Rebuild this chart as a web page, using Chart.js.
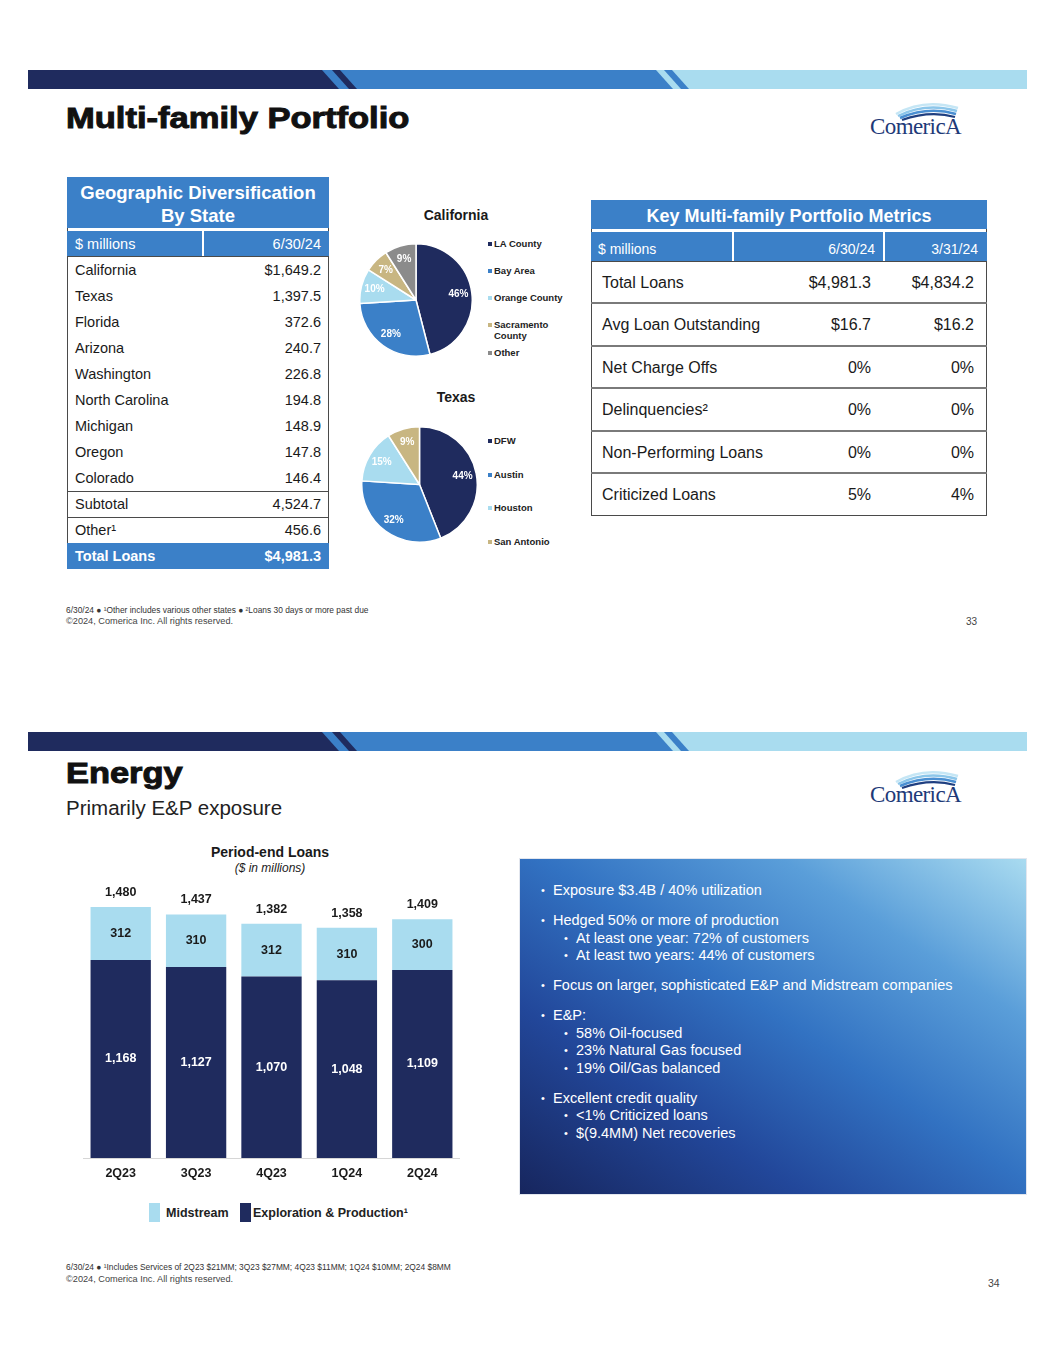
<!DOCTYPE html>
<html>
<head>
<meta charset="utf-8">
<script src="https://cdn.jsdelivr.net/npm/chart.js@4.4.1/dist/chart.umd.min.js"></script>
<style>
body { margin:0; width:1055px; height:1365px; background:#fff; position:relative; overflow:hidden;
       font-family:"Liberation Sans", Arial, sans-serif; color:#1a1a1a; }
.a { position:absolute; white-space:nowrap; line-height:1; }
.r { position:absolute; box-sizing:border-box; }
.box { position:absolute; }
.leg { position:absolute; font-weight:bold; font-size:9.5px; color:#222; line-height:11px; width:74px; }
.leg i { position:absolute; left:-6px; top:4px; width:4px; height:4px; }
#bullets { position:absolute; left:541px; top:882px; color:#fff; font-size:14.5px; line-height:17.5px; }
#bullets div { position:relative; padding-left:12px; white-space:nowrap; }
#bullets div.sub { padding-left:35px; }
#bullets div.gap { margin-top:12.5px; }
#bullets div::before { content:"\2022"; position:absolute; left:0; font-size:11px; }
#bullets div.sub::before { left:23px; }
</style>
</head>
<body>
<script>
// ---------- data ----------
const states = ['California', 'Texas', 'Florida', 'Arizona', 'Washington', 'North Carolina', 'Michigan', 'Oregon', 'Colorado'];
const stateLoans = [1649.2, 1397.5, 372.6, 240.7, 226.8, 194.8, 148.9, 147.8, 146.4];
const subtotalLoans = 4524.7;
const otherLoans = 456.6;
const totalStateLoans = 4981.3;

const metricNames = ['Total Loans', 'Avg Loan Outstanding', 'Net Charge Offs', 'Delinquencies²', 'Non-Performing Loans', 'Criticized Loans'];
const metricsJun24 = ['$4,981.3', '$16.7', '0%', '0%', '0%', '5%'];
const metricsMar24 = ['$4,834.2', '$16.2', '0%', '0%', '0%', '4%'];

const caRegions = ['LA County', 'Bay Area', 'Orange County', 'Sacramento County', 'Other'];
const caShares = [46, 28, 10, 7, 9];
const txRegions = ['DFW', 'Austin', 'Houston', 'San Antonio'];
const txShares = [44, 32, 15, 9];

const quarters = ['2Q23', '3Q23', '4Q23', '1Q24', '2Q24'];
const midstream = [312, 310, 312, 310, 300];
const explorationProduction = [1168, 1127, 1070, 1048, 1109];
const periodEndTotals = [1480, 1437, 1382, 1358, 1409];

const energyBullets = [
    [0, 'Exposure $3.4B / 40% utilization'],
    [0, 'Hedged 50% or more of production'],
    [1, 'At least one year: 72% of customers'],
    [1, 'At least two years: 44% of customers'],
    [0, 'Focus on larger, sophisticated E&amp;P and Midstream companies'],
    [0, 'E&amp;P:'],
    [1, '58% Oil-focused'],
    [1, '23% Natural Gas focused'],
    [1, '19% Oil/Gas balanced'],
    [0, 'Excellent credit quality'],
    [1, '&lt;1% Criticized loans'],
    [1, '$(9.4MM) Net recoveries']
];

// ---------- colours ----------
const navy = '#1f2b5e';
const midBlue = '#3b80c8';
const lightBlue = '#a9dcef';
const tan = '#c8b682';
const grey = '#8b8b8b';
const lineGrey = '#4a4a4a';

// ---------- helpers ----------
const W = 1055;
function put(html, x, y, css, align) {
    const d = document.createElement('div');
    d.className = 'a';
    d.innerHTML = html;
    d.style.cssText = css || '';
    d.style.top = y + 'px';
    let tx = '0';
    if (align === 'r') {
        d.style.right = (W - x) + 'px';
    } else {
        d.style.left = x + 'px';
        if (align === 'c') tx = '-50%';
    }
    d.style.transform = `translate(${tx},-50%)`;
    document.body.appendChild(d);
    return d;
}
function rect(x, y, w, h, css) {
    const d = document.createElement('div');
    d.className = 'r';
    d.style.cssText = `left:${x}px;top:${y}px;width:${w}px;height:${h}px;` + css;
    document.body.appendChild(d);
    return d;
}
function fmt(v, dec) {
    return v.toLocaleString('en-US', { minimumFractionDigits: dec || 0, maximumFractionDigits: dec || 0 });
}
function title(text, top, size, width) {
    const d = document.createElement('div');
    d.className = 'a';
    d.textContent = text;
    d.style.cssText = `left:66px;top:${top}px;font-size:${size}px;font-weight:bold;color:#111;-webkit-text-stroke:1px #111;transform-origin:0 0;`;
    document.body.appendChild(d);
    d.style.transform = `scaleX(${width / d.offsetWidth})`;
}
function banner(y) {
    const ns = 'http://www.w3.org/2000/svg';
    const svg = document.createElementNS(ns, 'svg');
    svg.setAttribute('width', W);
    svg.setAttribute('height', 19);
    svg.style.cssText = `position:absolute;left:0;top:${y}px`;
    const shapes = [
        ['28,0 1027,0 1027,19 28,19', lightBlue],
        ['28,0 656,0 673,19 28,19', midBlue],
        ['664,0 672,0 689,19 681,19', midBlue],
        ['28,0 322,0 339,19 28,19', navy],
        ['332,0 340,0 357,19 349,19', navy]
    ];
    shapes.forEach(s => {
        const p = document.createElementNS(ns, 'polygon');
        p.setAttribute('points', s[0]);
        p.setAttribute('fill', s[1]);
        svg.appendChild(p);
    });
    document.body.appendChild(svg);
}
function logo(y) {
    const ns = 'http://www.w3.org/2000/svg';
    const svg = document.createElementNS(ns, 'svg');
    svg.setAttribute('width', 120);
    svg.setAttribute('height', 40);
    svg.style.cssText = `position:absolute;left:862px;top:${y}px`;
    const arcs = [
        ['M 34 16 Q 62 0 96 10', '#c5e6f5', 2.5],
        ['M 36 18 Q 64 4 95 13', '#8cc6ea', 2.5],
        ['M 38 20 Q 66 8 94 16', '#4a8fd2', 2.5],
        ['M 40 22 Q 68 12 93 19', '#1f3f80', 2.2]
    ];
    arcs.forEach(a => {
        const p = document.createElementNS(ns, 'path');
        p.setAttribute('d', a[0]);
        p.setAttribute('stroke', a[1]);
        p.setAttribute('stroke-width', a[2]);
        p.setAttribute('fill', 'none');
        svg.appendChild(p);
    });
    document.body.appendChild(svg);
    put('ComericA', 870, y + 28, 'font-family:"Liberation Serif",serif;font-size:23px;color:#1e3a78;letter-spacing:-0.6px');
}

// ================= slide 33 =================
banner(70);
title('Multi-family Portfolio', 102.6, 30, 343);
logo(98);

// ----- geographic table -----
rect(67, 177, 262, 392, `border:1.2px solid ${lineGrey}`);
rect(67, 177, 262, 51, `background:${midBlue}`);
rect(67, 231, 262, 25, `background:${midBlue}`);
rect(202, 231, 1.5, 25, 'background:#fff');
rect(67, 256, 262, 1.2, `background:${lineGrey}`);
rect(67, 491, 262, 1.2, `background:${lineGrey}`);
rect(67, 517, 262, 1.2, `background:${lineGrey}`);
rect(67, 543, 262, 26, `background:${midBlue}`);
put('Geographic Diversification', 198, 193, 'color:#fff;font-weight:bold;font-size:18.5px', 'c');
put('By State', 198, 216, 'color:#fff;font-weight:bold;font-size:18.5px', 'c');
put('$ millions', 75, 244, 'color:#fff;font-size:14.5px');
put('6/30/24', 321, 244, 'color:#fff;font-size:14.5px', 'r');
states.forEach((s, i) => {
    const y = 269.5 + i * 26;
    put(s, 75, y, 'font-size:14.5px');
    put((i === 0 ? '$' : '') + fmt(stateLoans[i], 1), 321, y, 'font-size:14.5px', 'r');
});
put('Subtotal', 75, 504, 'font-size:14.5px');
put(fmt(subtotalLoans, 1), 321, 504, 'font-size:14.5px', 'r');
put('Other¹', 75, 530, 'font-size:14.5px');
put(fmt(otherLoans, 1), 321, 530, 'font-size:14.5px', 'r');
put('Total Loans', 75, 556, 'color:#fff;font-weight:bold;font-size:14.5px');
put('$' + fmt(totalStateLoans, 1), 321, 556, 'color:#fff;font-weight:bold;font-size:14.5px', 'r');

// ----- pies -----
put('California', 456, 215, 'font-weight:bold;font-size:14px', 'c');
put('Texas', 456, 397, 'font-weight:bold;font-size:14px', 'c');

function pieBox(id, x, y, size) {
    const d = document.createElement('div');
    d.className = 'box';
    d.style.cssText = `left:${x}px;top:${y}px;width:${size}px;height:${size}px`;
    d.innerHTML = `<canvas id="${id}"></canvas>`;
    document.body.appendChild(d);
    return document.getElementById(id);
}
function legend(labels, colors, ys) {
    labels.forEach((l, i) => {
        const d = document.createElement('div');
        d.className = 'leg';
        d.style.left = '494px';
        d.style.top = (ys[i] - 5.5) + 'px';
        d.innerHTML = `<i style="background:${colors[i]}"></i>${l}`;
        d.style.whiteSpace = 'normal';
        document.body.appendChild(d);
    });
}

const caColors = [navy, midBlue, lightBlue, tan, grey];
const txColors = [navy, midBlue, lightBlue, tan];
legend(caRegions, caColors, [243, 270, 297, 324, 352]);
legend(txRegions, txColors, [440, 474, 507, 541]);

const pieLabels = {
    id: 'pieLabels',
    afterDatasetsDraw(chart) {
        const ctx = chart.ctx;
        const ds = chart.data.datasets[0];
        ctx.save();
        ctx.font = 'bold 10px "Liberation Sans", Arial, sans-serif';
        ctx.fillStyle = '#fff';
        ctx.textAlign = 'center';
        ctx.textBaseline = 'middle';
        chart.getDatasetMeta(0).data.forEach((arc, i) => {
            const p = arc.getProps(['x', 'y', 'startAngle', 'endAngle', 'outerRadius'], true);
            const mid = (p.startAngle + p.endAngle) / 2;
            const r = p.outerRadius * 0.76;
            ctx.fillText(ds.data[i] + '%', p.x + Math.cos(mid) * r, p.y + Math.sin(mid) * r);
        });
        ctx.restore();
    }
};
function makePie(canvas, labels, values, colors) {
    return new Chart(canvas.getContext('2d'), {
        type: 'pie',
        data: {
            labels: labels,
            datasets: [{ data: values, backgroundColor: colors, borderColor: '#fff', borderWidth: 1.5 }]
        },
        options: {
            responsive: true,
            maintainAspectRatio: false,
            animation: false,
            layout: { padding: 0 },
            plugins: { legend: { display: false }, tooltip: { enabled: false } }
        },
        plugins: [pieLabels]
    });
}
makePie(pieBox('caPie', 359, 243, 114), caRegions, caShares, caColors);
makePie(pieBox('txPie', 361, 426, 117), txRegions, txShares, txColors);

// ----- metrics table -----
rect(591, 200, 396, 316, `border:1.2px solid ${lineGrey}`);
rect(591, 200, 396, 29, `background:${midBlue}`);
rect(591, 232, 396, 29, `background:${midBlue}`);
rect(732, 232, 1.5, 29, 'background:#fff');
rect(883, 232, 1.5, 29, 'background:#fff');
rect(591, 261, 396, 1.2, `background:${lineGrey}`);
[303, 346, 388, 431, 473].forEach(y => rect(591, y - 1, 396, 2, 'background:#7a7a7a'));
put('Key Multi-family Portfolio Metrics', 789, 216, 'color:#fff;font-weight:bold;font-size:18px', 'c');
put('$ millions', 598, 249, 'color:#fff;font-size:14px');
put('6/30/24', 875, 249, 'color:#fff;font-size:14px', 'r');
put('3/31/24', 978, 249, 'color:#fff;font-size:14px', 'r');
metricNames.forEach((m, i) => {
    const y = 282.5 + i * 42.5;
    put(m, 602, y, 'font-size:16px');
    put(metricsJun24[i], 871, y, 'font-size:16px', 'r');
    put(metricsMar24[i], 974, y, 'font-size:16px', 'r');
});

// ----- footer -----
put('6/30/24 ● ¹Other includes various other states ● ²Loans 30 days or more past due', 66, 610, 'font-size:8.4px;color:#333');
put('©2024, Comerica Inc. All rights reserved.', 66, 622, 'font-size:9.2px;color:#444');
put('33', 966, 622, 'font-size:10px;color:#444');

// ================= slide 34 =================
banner(732);
title('Energy', 757.6, 30, 117);
put('Primarily E&amp;P exposure', 66, 808, 'font-size:20.5px;color:#222');
logo(766);

// ----- bar chart -----
put('Period-end Loans', 270, 852, 'font-weight:bold;font-size:14px', 'c');
put('($ in millions)', 270, 868, 'font-style:italic;font-size:12px', 'c');

const barWrap = document.createElement('div');
barWrap.className = 'box';
barWrap.style.cssText = 'left:83px;top:880px;width:377px;height:309px';
barWrap.innerHTML = '<canvas id="energyChart"></canvas>';
document.body.appendChild(barWrap);

const barLabels = {
    id: 'barLabels',
    afterDatasetsDraw(chart) {
        const ctx = chart.ctx;
        ctx.save();
        ctx.font = 'bold 12.5px "Liberation Sans", Arial, sans-serif';
        ctx.textAlign = 'center';
        ctx.textBaseline = 'middle';
        chart.data.datasets.forEach((ds, di) => {
            chart.getDatasetMeta(di).data.forEach((bar, i) => {
                const p = bar.getProps(['x', 'y', 'base'], true);
                ctx.fillStyle = ds.labelColor;
                ctx.fillText(fmt(ds.data[i]), p.x, (p.y + p.base) / 2);
            });
        });
        const topMeta = chart.getDatasetMeta(chart.data.datasets.length - 1);
        ctx.fillStyle = '#1a1a1a';
        topMeta.data.forEach((bar, i) => {
            const p = bar.getProps(['x', 'y'], true);
            ctx.fillText(fmt(periodEndTotals[i]), p.x, p.y - 14.5);
        });
        ctx.restore();
    }
};

new Chart(document.getElementById('energyChart').getContext('2d'), {
    type: 'bar',
    data: {
        labels: quarters,
        datasets: [
            { label: 'Exploration & Production', data: explorationProduction, backgroundColor: navy, labelColor: '#fff' },
            { label: 'Midstream', data: midstream, backgroundColor: lightBlue, labelColor: '#1a1a1a' }
        ]
    },
    options: {
        responsive: true,
        maintainAspectRatio: false,
        animation: false,
        layout: { padding: 0 },
        datasets: { bar: { barPercentage: 0.8, categoryPercentage: 1.0 } },
        scales: {
            x: {
                stacked: true,
                grid: { display: false, drawTicks: false },
                border: { display: true, color: '#d6d6d6', width: 1 },
                ticks: {
                    padding: 8,
                    color: '#1a1a1a',
                    font: { size: 12.5, weight: 'bold', family: '"Liberation Sans", Arial, sans-serif' }
                }
            },
            y: { stacked: true, display: false, min: 0, max: 1640 }
        },
        plugins: { legend: { display: false }, tooltip: { enabled: false } }
    },
    plugins: [barLabels]
});

rect(149, 1203, 11, 19, `background:${lightBlue}`);
put('Midstream', 166, 1213, 'font-weight:bold;font-size:12.5px;color:#222');
rect(240, 1203, 11, 19, `background:${navy}`);
put('Exploration &amp; Production¹', 253, 1213, 'font-weight:bold;font-size:12.5px;color:#222');

// ----- text panel -----
rect(519, 858, 508, 337, 'border:1px solid #e2e6ee;background:linear-gradient(to top right, #17265e 0%, #22479a 28%, #3272c2 52%, #5a9ed9 76%, #a9dbf0 100%)');
const bl = document.createElement('div');
bl.id = 'bullets';
energyBullets.forEach((b, i) => {
    const cls = [];
    if (b[0] === 1) cls.push('sub');
    if (i > 0 && b[0] === 0) cls.push('gap');
    bl.innerHTML += `<div class="${cls.join(' ')}">${b[1]}</div>`;
});
document.body.appendChild(bl);

// ----- footer -----
put('6/30/24 ● ¹Includes Services of 2Q23 $21MM; 3Q23 $27MM; 4Q23 $11MM; 1Q24 $10MM; 2Q24 $8MM', 66, 1267, 'font-size:8.4px;color:#333');
put('©2024, Comerica Inc. All rights reserved.', 66, 1280, 'font-size:9.2px;color:#444');
put('34', 988, 1283, 'font-size:10.5px;color:#444');
</script>
</body>
</html>
